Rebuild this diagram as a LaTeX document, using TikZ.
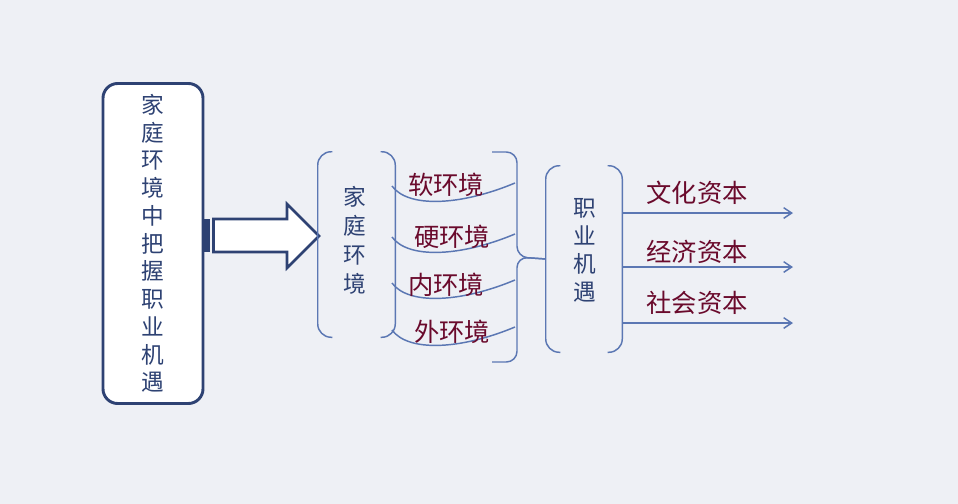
\documentclass[tikz,border=0pt]{standalone}
\usepackage{fontspec}
\newfontfamily\cjk{Noto Sans CJK SC}
\usetikzlibrary{arrows.meta}
\definecolor{navy}{HTML}{2E4273}
\definecolor{linkblue}{HTML}{5B77B3}
\definecolor{wine}{HTML}{6A0A2C}
\definecolor{paper}{HTML}{EEF0F5}
% a pair of round brackets around a node
\newcommand\parenpair[1]{%
  \draw[bracket] ([xshift=11pt]#1.north west) -- (#1.north west)
    -- (#1.south west) -- ([xshift=11pt]#1.south west);
  \draw[bracket] ([xshift=-11pt]#1.north east) -- (#1.north east)
    -- (#1.south east) -- ([xshift=-11pt]#1.south east);}

\begin{document}
\begin{tikzpicture}[x=0.75pt,y=-0.75pt,
  bracket/.style={draw=linkblue,line width=1.1pt,rounded corners=10pt},
  vtext/.style={font=\cjk\fontsize{17}{#1}\selectfont,text=navy,
    align=center,inner sep=0pt},
  envlabel/.style={font=\cjk\fontsize{19}{19}\selectfont,text=wine,
    inner sep=0pt},
  branch/.style={draw=linkblue,line width=1.1pt,
    -{Straight Barb[length=6pt,width=8pt]}}]
  \fill[paper] (0,0) rectangle (958,504);
  \useasboundingbox (0,0) rectangle (958,504);

  % left box
  \node[vtext=20.8pt,draw=navy,line width=2.2pt,fill=white,
    rounded corners=11pt,minimum width=75pt,minimum height=240pt]
    (lbox) at (153,243.5) {家\\庭\\环\\境\\中\\把\\握\\职\\业\\机\\遇};

  % striped block arrow
  \fill[navy] (203,219) rectangle (209.5,252);
  \draw[navy,line width=1.9pt,fill=white,line join=miter]
    (213.5,219) -- (287,219) -- (287,204) -- (319,236)
    -- (287,268) -- (287,252) -- (213.5,252) -- cycle;

  % family environment
  \node[minimum width=57.75pt,minimum height=138.75pt] (jtframe)
    at (356.5,244.5) {};
  \node[vtext=21.75pt] (jt) at (355,240) {家\\庭\\环\\境};
  \parenpair{jtframe}

  \foreach \y in {186,237,283,330}
    \draw[bracket] (392,\y) .. controls (408,\y+22) and (460,\y+20)
      .. (515,\y-3);
  \foreach \n/\t/\x/\y in {soft/软环境/446/185, hard/硬环境/452/237,
      inner/内环境/446/285, outer/外环境/452/332}
    \node[envlabel] (\n) at (\x,\y) {\t};

  % career chances
  \node[minimum width=57pt,minimum height=139.5pt] (zyframe)
    at (584,259) {};
  \node[vtext=21pt] (zy) at (585,250) {职\\业\\机\\遇};
  \parenpair{zyframe}

  \draw[bracket,rounded corners=8pt] (492,152) -- (517,152)
    -- (517,257) -- (zyframe.west);
  \draw[bracket,rounded corners=8pt] (zyframe.west) -- (517,257)
    -- (517,362) -- (492,362);

  \foreach \n/\t/\y/\ay in {culture/文化资本/193/213,
      economy/经济资本/252/267, social/社会资本/303/323} {
    \node[envlabel] (\n) at (697,\y) {\t};
    \coordinate (\n end) at (793,\ay);
    \draw[branch] (zyframe.east |- \n end) -- (\n end);
  }
\end{tikzpicture}
\end{document}
